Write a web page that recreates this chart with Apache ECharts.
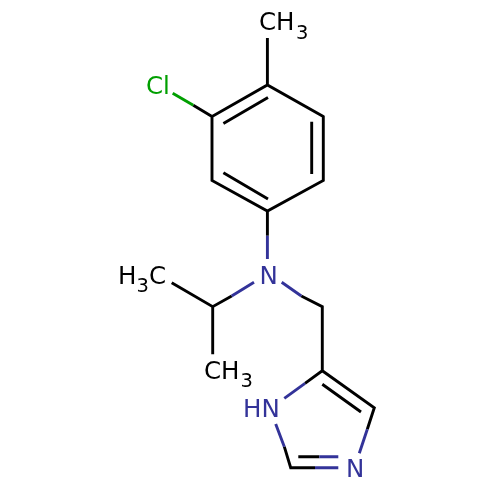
<!DOCTYPE html>
<html><head><meta charset="utf-8">
<style>html,body{margin:0;padding:0;background:#fff}#c{width:500px;height:500px}</style>
<script src="https://cdn.jsdelivr.net/npm/echarts@6/dist/echarts.min.js"></script>
</head><body><div id="c"></div>
<script>
// Bond paths in drawing units, one list per atom colour
const blackBonds = [
  [[267.4,85],[323.3,116.5],[323.3,180.5],[267.4,211],[212,180.5],[212,116.5],[267.4,85],[323.3,116.5]],
  [[267.4,38],[267.4,85]],
  [[223.4,123.5],[268,97.5]],
  [[311.7,121.7],[311.7,174]],
  [[223.4,172.7],[268,199]],
  [[212,116.5],[193.3,105.3]],
  [[267.4,211],[267.4,235.7]],
  [[171.7,282.7],[212.7,306.7],[231.7,296]],
  [[212.7,306.7],[212.7,354.3]],
  [[301.3,296],[322.3,306.7],[322.3,370.7],[305,383.3]],
  [[322.3,370.7],[374.3,407.7],[367.3,429.3]],
  [[322.3,384.3],[361,412]],
  [[284.3,446.7],[290.7,467.7],[315,467.7]],
  [[298.3,456.7],[319.3,456.7]]
];
const blueBonds = [
  [[267.4,235.7],[267.4,259]],
  [[231.7,296],[254,282.3]],
  [[281.7,282.3],[301.3,296]],
  [[305,383.3],[284.3,398.3]],
  [[367.3,429.3],[359.3,453.3]],
  [[315,467.7],[338.3,467.7]],
  [[319.3,456.7],[338.3,456.7]],
  [[275.7,424],[284.3,446.7]]
];
const greenBonds = [
  [[193.3,105.3],[172.7,93.3]]
];
// Atom label pieces: [text, x, y]
const blackLabels = [["CH",259,23.5],["C",149,278],["H",118,278],["CH",204,373]];
const blackSubs = [["3",296,34],["3",136.5,287],["3",240.5,382]];
const blueLabels = [["N",259.5,277.5],["HN",243,411],["N",346,470.5]];
const greenLabels = [["Cl",146,87.5]];

const colors = {black:"#000000", blue:"#333399", green:"#009f00"};
const withBreaks = paths => paths.flatMap(p => [...p, ["-","-"]]);
const bondSeries = (paths,color) => ({
  type:"line", data:withBreaks(paths), showSymbol:false, symbol:"none", silent:true,
  connectNulls:false, clip:false, animation:false,
  lineStyle:{color, width:2.9, join:"miter", cap:"butt"}
});
const labelSeries = (items,color,size) => ({
  type:"scatter", data:items.map(d=>({value:[d[1],d[2]],name:d[0]})), symbolSize:0, silent:true,
  clip:false, animation:false, itemStyle:{opacity:1},
  label:{show:true, position:"inside", formatter:p=>p.name, color, fontFamily:"DejaVu Sans", opacity:1,
    fontSize:size, align:"left", verticalAlign:"middle", textBorderWidth:0, textBorderColor:"transparent", textShadowBlur:0}
});
const chart = echarts.init(document.getElementById("c"),null,{renderer:"canvas"});
chart.setOption({
  animation:false, backgroundColor:"#fff",
  grid:{left:0,right:0,top:0,bottom:0},
  xAxis:{type:"value",min:0,max:500,show:false},
  yAxis:{type:"value",min:0,max:500,inverse:true,show:false},
  series:[
    bondSeries(blackBonds,colors.black),
    bondSeries(blueBonds,colors.blue),
    bondSeries(greenBonds,colors.green),
    labelSeries(blackLabels,colors.black,24.5),
    labelSeries(blackSubs,colors.black,19.5),
    labelSeries(blueLabels,colors.blue,24.5),
    labelSeries(greenLabels,colors.green,24.5)
  ]
});
</script></body></html>
